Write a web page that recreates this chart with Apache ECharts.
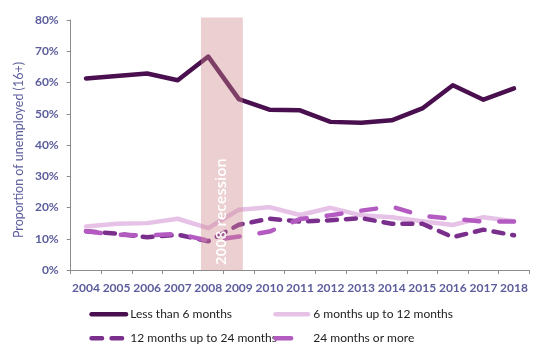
<!DOCTYPE html>
<html>
<head>
<meta charset="utf-8">
<script src="https://cdn.jsdelivr.net/npm/echarts@6/dist/echarts.min.js"></script>
<style>html,body{margin:0;padding:0;background:#fff;}#c{width:539px;height:356px;}</style>
</head>
<body>
<div id="c"></div>
<script>
var years = ['2004','2005','2006','2007','2008','2009','2010','2011','2012','2013','2014','2015','2016','2017','2018'];
var lessThan6 = [61.3, 62.1, 62.9, 60.7, 68.3, 54.7, 51.3, 51.1, 47.4, 47.1, 47.9, 51.7, 59.1, 54.5, 58.1];
var m6to12 = [13.9, 14.8, 15.0, 16.4, 13.4, 19.3, 20.1, 17.6, 19.9, 17.5, 16.9, 15.6, 14.4, 16.9, 15.6];
var m12to24 = [12.4, 11.6, 10.5, 11.3, 9.2, 14.5, 16.4, 15.5, 15.9, 16.6, 14.8, 14.8, 10.5, 12.9, 11.1];
var m24plus = [12.4, 11.3, 11.0, 11.6, 9.4, 10.7, 12.3, 16.3, 17.5, 19.0, 20.3, 17.3, 16.4, 15.5, 15.5];
var seriesNames = ['Less than 6 months', '6 months up to 12 months', '12 months up to 24 months', '24 months or more'];
var recession = {label: '2008 recession', from: 4.26, to: 5.63, top: 80.8};
var yAxisTitle = 'Proportion of unemployed (16+)';

var axisColor = '#5b5d9c';
var fontFam = 'Lato, "Open Sans", sans-serif';
var chart = echarts.init(document.getElementById('c'), null, {renderer: 'canvas'});

function lineSeries(name, data, color, width, dash) {
  return {
    name: name, type: 'line', data: data, symbol: 'none', showSymbol: false, smooth: false,
    xAxisIndex: 0, yAxisIndex: 0, z: 2,
    lineStyle: {color: color, width: width, type: dash || 'solid', cap: 'round', join: 'round'},
    itemStyle: {color: color},
    emphasis: {disabled: true}
  };
}

var iconSolid39 = 'path://M2.25,0 L36.75,0 A2.25,2.25 0 0 1 36.75,4.5 L2.25,4.5 A2.25,2.25 0 0 1 2.25,0 Z';
var iconSolid37 = 'path://M2.25,0 L34.75,0 A2.25,2.25 0 0 1 34.75,4.5 L2.25,4.5 A2.25,2.25 0 0 1 2.25,0 Z';
var iconDash2 = 'path://M2.25,0 L12.75,0 A2.25,2.25 0 0 1 12.75,4.5 L2.25,4.5 A2.25,2.25 0 0 1 2.25,0 Z M22.25,0 L32.75,0 A2.25,2.25 0 0 1 32.75,4.5 L22.25,4.5 A2.25,2.25 0 0 1 22.25,0 Z';
var iconDash1 = 'path://M2.25,0 L17.75,0 A2.25,2.25 0 0 1 17.75,4.5 L2.25,4.5 A2.25,2.25 0 0 1 2.25,0 Z';

function legendAt(name, left, top, icon, w, pad) {
  return {
    data: [{name: name, icon: icon}], left: left, top: top, itemWidth: w, itemHeight: 14,
    padding: 0, selectedMode: false,
    textStyle: {fontFamily: fontFam, fontSize: 12, color: '#222', padding: [0, 0, 0, pad]}
  };
}

var option = {
  animation: false,
  backgroundColor: '#fff',
  grid: {left: 70.7, right: 9.7, top: 20, bottom: 86, containLabel: false},
  legend: [
    legendAt(seriesNames[0], 89.3, 308.3, iconSolid39, 39, -3),
    legendAt(seriesNames[1], 273.3, 308.3, iconSolid37, 37, -2),
    legendAt(seriesNames[2], 89.3, 332.3, iconDash2, 35, 1),
    legendAt(seriesNames[3], 273.3, 332.3, iconDash1, 20, 15)
  ],
  xAxis: [{
    type: 'category', data: years, boundaryGap: true,
    axisLine: {lineStyle: {color: '#8c8c8c', width: 1}},
    axisTick: {show: true, inside: false, length: 4, lineStyle: {color: '#8c8c8c'}},
    axisLabel: {color: axisColor, fontFamily: fontFam, fontWeight: 'bold', fontSize: 12, margin: 12, interval: 0},
    splitLine: {show: false}
  }, {
    type: 'value', min: 0, max: 15, show: false
  }],
  yAxis: {
    type: 'value', min: 0, max: 80, interval: 10,
    axisLine: {show: true, lineStyle: {color: '#8c8c8c', width: 1}},
    axisTick: {show: true, length: 4, lineStyle: {color: '#8c8c8c'}},
    axisLabel: {color: axisColor, fontFamily: fontFam, fontWeight: 'bold', fontSize: 12, margin: 12,
      formatter: function (v) { return v + '%'; }},
    splitLine: {show: false}
  },
  series: [
    lineSeries(seriesNames[0], lessThan6, '#4a0f4f', 4.5),
    lineSeries(seriesNames[1], m6to12, '#e6c2e7', 4.5),
    lineSeries(seriesNames[2], m12to24, '#7b2f8c', 4.5, [10, 9]),
    lineSeries(seriesNames[3], m24plus, '#b45bc2', 4.5, [15, 20])
  ]
};
chart.setOption(option);

var x1 = chart.convertToPixel({xAxisIndex: 1}, recession.from);
var x2 = chart.convertToPixel({xAxisIndex: 1}, recession.to);
var y0 = chart.convertToPixel({yAxisIndex: 0}, 0);
var yTop = chart.convertToPixel({yAxisIndex: 0}, recession.top);
var yMid = chart.convertToPixel({yAxisIndex: 0}, 40);
chart.setOption({
  graphic: [{
    type: 'rect', z: 50, silent: true,
    shape: {x: x1, y: yTop, width: x2 - x1, height: y0 - yTop},
    style: {fill: 'rgba(204,135,139,0.4)'}
  }, {
    type: 'text', x: (x1 + x2) / 2, y: y0 - 5, rotation: Math.PI / 2, z: 60, silent: true,
    style: {text: recession.label, fill: '#fff', font: '600 15px "Open Sans", sans-serif',
      align: 'left', verticalAlign: 'middle'}
  }, {
    type: 'text', x: 19, y: yMid + 5, rotation: Math.PI / 2, z: 60, silent: true,
    style: {text: yAxisTitle, fill: axisColor, font: '12.5px Lato, "Open Sans", sans-serif',
      align: 'center', verticalAlign: 'middle'}
  }]
});
</script>
</body>
</html>
